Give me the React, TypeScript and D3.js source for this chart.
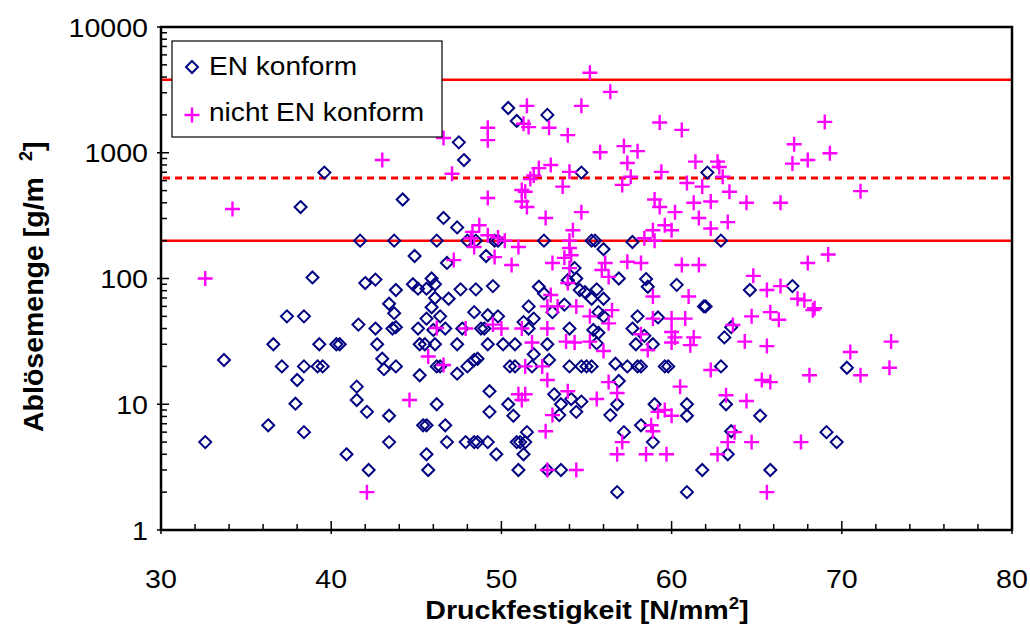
import React from 'react';
import * as d3 from 'd3';

const enKonform: [number, number][] = [
  [50.4,2270],[50.9,1790],[52.7,2000],[47.5,1210],[47.8,875],[39.6,695],[38.2,370],[41.7,200],[43.7,200],[46.2,200],
  [44.2,425],[46.6,303],[44.9,151],[46.8,133],[38.9,102],[42.0,92],[42.6,98],[45.9,100],[43.8,81],[44.8,90],
  [45.1,83],[45.6,83],[46.1,90],[46.9,69],[46.1,70],[43.4,63],[43.7,53],[45.9,59],[45.6,48],[46.4,50],
  [37.4,50],[38.4,50],[41.6,43],[42.6,40],[43.6,40],[43.8,41],[45.1,40],[46.0,39],[36.6,30],[39.3,30],
  [40.3,30],[40.5,30],[42.7,30],[45.2,30],[45.5,30],[46.1,30],[33.7,22.5],[37.1,20],[38.4,20],[39.2,20],
  [39.5,20],[43.0,23],[43.1,19],[43.8,20],[46.2,20],[46.4,20],[38.0,15.6],[41.5,13.8],[45.2,17],[37.9,10.1],
  [41.5,10.8],[46.2,10],[42.1,8.7],[43.4,8.1],[36.3,6.8],[38.4,6.0],[45.4,6.8],[45.6,6.8],[46.7,6.8],[32.6,5],
  [43.4,5],[46.8,5],[40.9,4],[45.6,4],[42.2,3],[45.7,3],[50.4,10],[49.3,8.7],[50.7,8.1],[53.5,10],
  [53.4,8.2],[54.4,8.7],[54.7,10.5],[56.4,8.2],[56.8,10],[59.0,10],[60.9,10],[60.9,8.1],[63.2,10],[51.5,6.0],
  [57.2,6.0],[58.2,6.8],[63.5,6.1],[47.9,5],[48.4,5],[48.6,5],[49.2,5],[50.9,5],[51.1,5],[51.4,5],
  [58.9,5],[49.7,4],[51.3,4],[63.3,4],[51.0,3],[52.7,3],[53.5,3],[61.8,3],[56.8,2],[60.9,2],
  [65.2,8.1],[69.1,6.0],[69.7,5],[65.8,3],[47.6,82],[48.5,82],[49.5,87],[52.2,86],[53.9,97],[54.4,100],
  [54.6,81],[54.9,78],[55.6,82],[56.0,69],[55.3,69],[58.5,99],[58.6,86],[60.3,89],[61.9,60],[62.0,60],
  [48.4,54],[49.2,51],[49.8,50],[51.6,60],[51.9,48],[53.0,54],[53.7,62],[55.7,54],[56.0,50],[58.0,50],
  [59.2,49],[51.3,45],[47.7,40],[48.8,40],[49.0,40],[51.6,40],[54.0,40],[55.4,39],[55.7,37],[57.7,40],
  [58.4,35],[47.4,30],[49.2,30],[50.1,30],[50.8,30],[52.7,30],[55.6,30.5],[57.9,30],[58.9,30],[63.1,34],
  [46.7,40],[51.9,25],[48.4,22.5],[48.6,23],[48.0,20],[50.5,20],[50.8,20],[51.8,20],[52.8,22.5],[54.0,20],
  [54.7,20],[55.0,20],[55.3,20],[56.7,21],[57.4,20],[58.0,20],[58.2,20],[59.6,20],[59.8,20],[62.9,20],
  [47.4,17.5],[49.3,12.7],[53.1,12],[54.1,11],[56.9,15.3],[52.5,76],[64.6,81],[67.1,87],[63.5,41],[70.3,19.5],
  [47.4,255],[48.0,200],[48.5,200],[49.6,200],[49.8,200],[52.5,200],[55.3,200],[55.5,200],[56.0,171],[57.7,195],
  [62.9,200],[49.1,151],[54.3,121],[56.9,100],[54.7,695],[62.1,695]
];

const nichtEnKonform: [number, number][] = [
  [46.6,1310],[55.2,4330],[56.4,3050],[54.7,2360],[51.5,2360],[51.3,1700],[51.6,1600],[49.2,1580],[49.2,1260],[52.8,1580],
  [53.9,1380],[59.3,1740],[60.6,1520],[55.8,1010],[57.2,1130],[58.0,1030],[69.0,1760],[67.2,1170],[69.3,990],[43.0,875],
  [34.2,357],[32.6,100],[57.4,830],[57.6,645],[57.1,555],[52.9,800],[52.2,755],[51.9,660],[51.7,617],[54.0,705],
  [53.6,538],[51.2,505],[51.4,490],[51.2,410],[51.5,370],[49.2,437],[47.1,680],[59.4,705],[61.4,850],[62.7,850],
  [62.8,770],[63.0,645],[60.9,575],[61.8,538],[63.4,490],[59.0,425],[59.3,370],[60.2,337],[61.3,400],[62.3,410],
  [61.6,303],[63.3,281],[62.3,250],[60.0,242],[59.6,265],[58.9,242],[58.4,209],[59.0,200],[54.7,337],[52.6,303],
  [54.2,242],[54.0,200],[54.0,175],[53.7,146],[54.1,153],[48.7,265],[48.3,235],[48.2,209],[48.4,178],[49.2,221],
  [49.8,212],[50.2,200],[51.0,178],[49.6,148],[50.6,128],[47.2,140],[53.0,133],[56.1,133],[57.4,136],[58.2,133],
  [60.6,128],[61.6,128],[55.9,117],[56.3,103],[54.0,121],[67.1,820],[68.0,875],[64.4,400],[66.4,400],[71.1,495],
  [69.2,155],[68.0,133],[64.8,105],[53.9,92],[52.9,74],[53.3,60],[52.7,60],[54.4,60],[56.5,56],[55.2,50],
  [56.3,44],[58.9,72],[61.0,72],[58.9,48],[60.0,48],[60.8,48],[60.0,37.5],[60.2,34],[61.3,34],[60.0,31],
  [61.1,29.5],[58.2,36],[58.6,27],[47.9,40],[49.5,43],[50.0,40],[51.2,40],[52.7,40],[51.8,31],[53.8,31.5],
  [54.3,31],[55.2,31.5],[56.0,26.5],[51.4,20],[52.4,20],[46.6,20.5],[52.7,15.6],[56.3,15],[53.9,12.7],[55.6,11],
  [56.8,12.3],[51.0,12],[51.4,12],[60.5,13.8],[62.3,18.7],[63.2,11.8],[63.6,42.7],[65.6,81],[66.4,87],[67.4,69],
  [67.8,67],[68.3,56],[68.4,58],[64.7,50],[65.8,54],[66.3,47],[64.3,31.5],[65.6,29],[70.5,26],[72.9,31.5],
  [72.8,19.5],[71.1,17],[68.1,17],[65.3,15.6],[65.8,15],[64.4,10.6],[46.2,40.4],[45.7,24],[44.6,10.8],[42.1,2],
  [51.2,10.8],[53.0,8.2],[59.2,8.7],[60.0,8.1],[59.6,9],[52.6,6.1],[58.8,6.8],[58.9,6.1],[57.1,5],[56.8,4],
  [58.5,4],[59.7,4],[62.7,4],[63.3,5],[52.7,3],[54.4,3],[63.7,6],[64.7,5],[67.6,5],[65.6,2]
];

const xTicks = [30, 40, 50, 60, 70, 80];
const yTicks = [1, 10, 100, 1000, 10000];
const solidLimits = [200, 3800];
const dottedLimits = [630];
const legendLabels = ['EN konform', 'nicht EN konform'];

const FONT = '"Liberation Sans", Arial, sans-serif';
const SX = 1.1;

export default function App() {
  const W = 1030, H = 643;
  const L = 161, R = 1012, T = 27, B = 530;
  const x = d3.scaleLinear().domain([30, 80]).range([L, R]);
  const y = d3.scaleLog().domain([1, 10000]).range([B, T]);

  const minorY: number[] = [];
  [1, 10, 100, 1000].forEach(d => { for (let k = 2; k <= 9; k++) minorY.push(d * k); });
  const minorX = d3.range(32, 80, 2).filter(v => v % 10 !== 0);

  const r = 6;
  const diamond = `M0,${-r}L${r},0L0,${r}L${-r},0Z`;
  const a = 7.5;
  const cross = `M${-a},0H${a}M0,${-a}V${a}`;

  return (
    <svg width={W} height={H} style={{ position: 'absolute', left: 0, top: 0, background: '#fff' }} fontFamily={FONT}>
      <rect x={0} y={0} width={W} height={H} fill="#fff" />
      {solidLimits.map(v => (
        <line key={'s' + v} x1={L} x2={R} y1={y(v)} y2={y(v)} stroke="#ff0000" strokeWidth={2.5} />
      ))}
      {dottedLimits.map(v => (
        <line key={'d' + v} x1={L + 2} x2={R} y1={y(v)} y2={y(v)} stroke="#ff0000" strokeWidth={3} strokeDasharray="7,5" />
      ))}
      {enKonform.map((p, i) => (
        <path key={'e' + i} d={diamond} transform={`translate(${x(p[0])},${y(p[1])})`} fill="none" stroke="#000080" strokeWidth={2} />
      ))}
      {nichtEnKonform.map((p, i) => (
        <path key={'n' + i} d={cross} transform={`translate(${x(p[0])},${y(p[1])})`} fill="none" stroke="#ff00ff" strokeWidth={2.4} />
      ))}
      <rect x={L} y={T} width={R - L} height={B - T} fill="none" stroke="#000" strokeWidth={2.5} />
      {minorY.map(v => (
        <line key={'my' + v} x1={L} x2={L + 6} y1={y(v)} y2={y(v)} stroke="#000" strokeWidth={1.5} />
      ))}
      {yTicks.map(v => (
        <g key={'ty' + v}>
          <line x1={L - 4} x2={L + 8} y1={y(v)} y2={y(v)} stroke="#000" strokeWidth={1.5} />
          <text transform={`translate(${L - 13},${y(v) + 9.5}) scale(${SX},1)`} textAnchor="end" fontSize={26}>{v}</text>
        </g>
      ))}
      {minorX.map(v => (
        <line key={'mx' + v} x1={x(v)} x2={x(v)} y1={B} y2={B - 6} stroke="#000" strokeWidth={1.5} />
      ))}
      {xTicks.map(v => (
        <g key={'tx' + v}>
          <line x1={x(v)} x2={x(v)} y1={B + 4} y2={B - 9} stroke="#000" strokeWidth={1.5} />
          <text transform={`translate(${x(v)},588) scale(${SX},1)`} textAnchor="middle" fontSize={26}>{v}</text>
        </g>
      ))}
      <text transform={`translate(587,619) scale(${SX},1)`} textAnchor="middle" fontSize={26} fontWeight="bold">
        Druckfestigkeit [N/mm<tspan dy={-10} fontSize={17}>2</tspan><tspan dy={10}>]</tspan>
      </text>
      <text transform={`translate(43,432) rotate(-90)`} textAnchor="start" fontSize={28.5} fontWeight="bold">
        Ablösemenge [g/m<tspan dx={16} dy={-11} fontSize={18}>2</tspan><tspan dy={11}>]</tspan>
      </text>
      <rect x={172} y={41} width={270} height={96} fill="#fff" stroke="#000" strokeWidth={1.2} />
      <path d={diamond} transform="translate(192,67)" fill="none" stroke="#000080" strokeWidth={2} />
      <text transform={`translate(209,75) scale(1.08,1)`} fontSize={26}>{legendLabels[0]}</text>
      <path d={cross} transform="translate(192,115)" fill="none" stroke="#ff00ff" strokeWidth={2.4} />
      <text transform={`translate(209,121) scale(1.08,1)`} fontSize={26}>{legendLabels[1]}</text>
    </svg>
  );
}
